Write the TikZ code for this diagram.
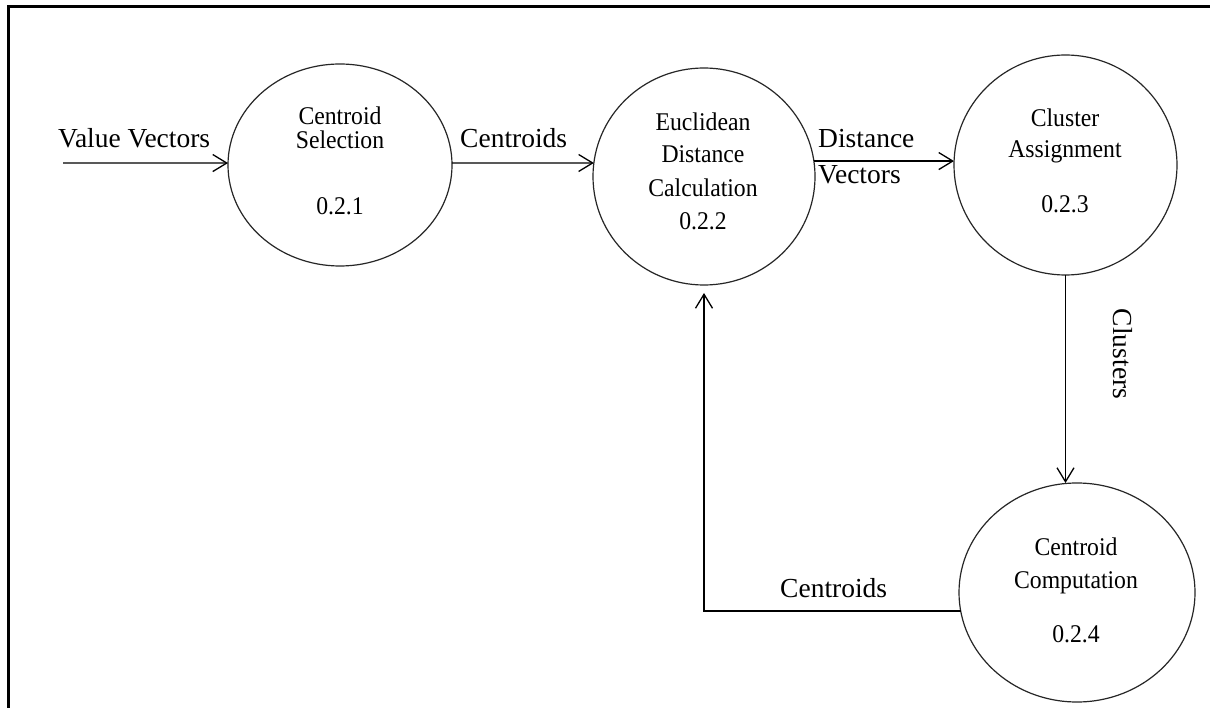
\documentclass[tikz,border=0pt]{standalone}
\usepackage{fontspec}
\setmainfont{Liberation Serif}
\newfontfamily\procfont[FakeStretch=0.93]{Liberation Serif}
\usetikzlibrary{arrows.meta,shapes.geometric}
\tikzset{
  proc/.style 2 args={ellipse, draw=black!85, line width=1.2pt,
    minimum width=#1, minimum height=#2, inner sep=0pt, outer sep=0pt},
  ptext/.style={font=\procfont\fontsize{25.5}{30}\selectfont, anchor=base, inner sep=0pt},
  elabel/.style={font=\fontsize{27.5}{33}\selectfont, anchor=base west, inner sep=0pt},
  flow/.style={draw=black, line width=1.3pt,
    -{Straight Barb[length=14pt,width=17pt,line width=1.3pt]}},
  frame/.style={draw=black, line width=3pt}
}
\begin{document}
\begin{tikzpicture}[x=1pt,y=-1pt]
  \useasboundingbox (0,0) rectangle (1210,708);
  \fill[white] (0,0) rectangle (1210,708);

  % frame (top and left edges)
  \draw[frame] (8,712) -- (8,7) -- (1214,7);

  % processes
  \node[proc={224pt}{202pt}] (p1) at (340,165) {};
  \node[proc={222pt}{217pt}] (p2) at (704,176.5) {};
  \node[proc={223pt}{220pt}] (p3) at (1065.5,165) {};
  \node[proc={236pt}{219pt}] (p4) at (1077,592.5) {};

  % process texts
  \node[ptext] (t11) at (340,125) {Centroid};
  \node[ptext] (t12) at (340,149) {Selection};
  \node[ptext] (t13) at (340,215) {0.2.1};

  \node[ptext] (t21) at (703,131) {Euclidean};
  \node[ptext] (t22) at (703,163) {Distance};
  \node[ptext] (t23) at (703,197) {Calculation};
  \node[ptext] (t24) at (703,230) {0.2.2};

  \node[ptext] (t31) at (1065,127) {Cluster};
  \node[ptext] (t32) at (1065,158) {Assignment};
  \node[ptext] (t33) at (1065,213) {0.2.3};

  \node[ptext] (t41) at (1076,555) {Centroid};
  \node[ptext] (t42) at (1076,588) {Computation};
  \node[ptext] (t43) at (1076,642) {0.2.4};

  % data flows
  \coordinate (vin) at (63,163);
  \draw[flow] (vin) -- (p1.179);
  \draw[flow] (p1.1) -- (p2.173);
  \draw[flow] (p2.8) -- (p2.8 -| p3.west);
  \draw[flow] (p3.south) -- (p3.south |- p4.north);
  \draw[flow, shorten >=8pt] (p4.189) -| (p2.south);

  % flow labels
  \node[elabel] (lv) at (58,148) {Value Vectors};
  \node[elabel] (lc1) at (460,148) {Centroids};
  \node[elabel] (ld1) at (818,148) {Distance};
  \node[elabel] (ld2) at (818,184) {Vectors};
  \node[font=\fontsize{27.5}{33}\selectfont, inner sep=0pt, rotate=-90] (lcl) at (1123,354) {Clusters};
  \node[elabel] (lc2) at (780,597) {Centroids};
\end{tikzpicture}
\end{document}
